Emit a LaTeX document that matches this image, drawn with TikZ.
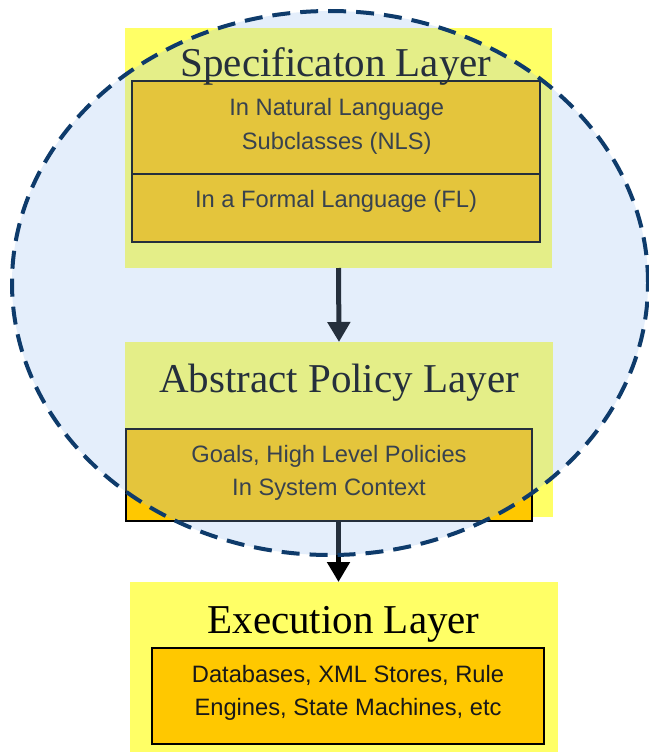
\documentclass[tikz,border=0pt]{standalone}
\usepackage{fontspec}
\setmainfont{Liberation Serif}
\newfontfamily\boxfont{Liberation Sans}
\usetikzlibrary{shapes.geometric,arrows.meta}
\definecolor{layeryellow}{HTML}{FFFF66}
\definecolor{boxorange}{HTML}{FFC800}
\definecolor{scopeblue}{RGB}{150,190,240}
\definecolor{dashnavy}{HTML}{0E3B6B}
\begin{document}
\begin{tikzpicture}[x=1pt,y=-1pt,
  layer/.style={fill=layeryellow, draw=none, inner sep=0pt, outer sep=0pt},
  innerbox/.style={fill=boxorange, draw=black, line width=2.5pt, inner sep=0pt},
  title/.style={font=\fontsize{41}{41}\selectfont, text=black, anchor=base, inner sep=0pt},
  body/.style={font=\boxfont\fontsize{23.7}{23.7}\selectfont, text=black!90, anchor=base, inner sep=0pt},
  flow/.style={line width=5pt, draw=black, -{Triangle[width=22pt,length=20pt]}},
]
\useasboundingbox (0,0) rectangle (648,752);
\fill[white] (0,0) rectangle (648,752);

% the three layers
\node[layer, minimum width=427pt, minimum height=240pt] (spec) at (338.5,148) {};
\node[layer, minimum width=428pt, minimum height=175pt] (abs) at (339,429.5) {};
\node[layer, minimum width=428pt, minimum height=170pt] (exe) at (344,667) {};

% contents of each layer
\node[innerbox, minimum width=408pt, minimum height=93pt] (nls) at (336,127.5) {};
\node[innerbox, minimum width=408pt, minimum height=68pt] (fl) at (336,208) {};
\node[innerbox, minimum width=406pt, minimum height=92pt] (absbox) at (329,475) {};
\node[innerbox, minimum width=392pt, minimum height=96pt] (exebox) at (348,696) {};

\node[title] (spectitle) at (336,77) {Specificaton Layer};
\node[title] (abstitle) at (339,392) {Abstract Policy Layer};
\node[title] (exetitle) at (343.5,633) {Execution Layer};

\node[body] (nlsa) at (336.7,115) {In Natural Language};
\node[body] (nlsb) at (336.7,149) {Subclasses (NLS)};
\node[body] (fltext) at (336,207) {In a Formal Language (FL)};
\node[body] (absa) at (329,462) {Goals, High Level Policies};
\node[body] (absb) at (329,495) {In System Context};
\node[body] (exea) at (348,682) {Databases, XML Stores, Rule};
\node[body] (exeb) at (348,715) {Engines, State Machines, etc};

% flow between layers
\draw[flow] (spec.south) -- (abs.north);
\draw[flow] (absbox.south -| spec.south) -- (exe.north -| spec.south);

% dashed region over the specification and policy layers
\node[ellipse, draw=dashnavy, fill=scopeblue, fill opacity=0.25, line width=4pt,
      dash pattern=on 18pt off 10pt, minimum width=636pt, minimum height=544pt,
      inner sep=0pt] (policyscope) at (330,283) {};
\end{tikzpicture}
\end{document}
